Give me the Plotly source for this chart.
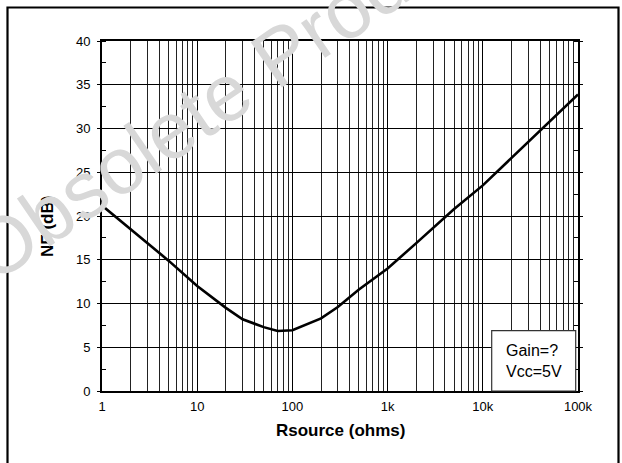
import plotly.graph_objects as go

# ---- data ----
rsource = [1, 2, 5, 10, 20, 30, 50, 70, 100, 200, 300, 500, 1000, 2000, 3000,
           5000, 10000, 20000, 30000, 50000, 100000]
nf_db = [21.2, 18.5, 14.9, 12.0, 9.5, 8.2, 7.3, 6.85, 6.95, 8.3, 9.6, 11.6, 14.0,
         16.9, 18.6, 20.8, 23.5, 26.6, 28.5, 30.8, 33.9]

x_tickvals = [1, 10, 100, 1000, 10000, 100000]
x_ticktext = ["1", "10", "100", "1k", "10k", "100k"]
y_tickvals = [0, 5, 10, 15, 20, 25, 30, 35, 40]

x_title = "Rsource (ohms)"
y_title = "NF (dB)"
box_text = "Gain=?<br>Vcc=5V"
watermark = "Obsolete Product"

FONT = "Liberation Sans, Arial, sans-serif"

# ---- geometry (pixels) ----
W, H = 622, 463
L, R, T, B = 102, 578, 41, 391
pw, ph = R - L, B - T


def px(x):
    return (x - L) / pw


def py(y):
    return (B - y) / ph


fig = go.Figure()
fig.add_trace(go.Scatter(
    x=rsource, y=nf_db, mode="lines",
    line=dict(color="black", width=2.6),
    hoverinfo="skip", showlegend=False,
))

fig.update_layout(
    width=W, height=H,
    margin=dict(l=L, r=W - R, t=T, b=H - B, pad=0),
    paper_bgcolor="white", plot_bgcolor="white",
    font=dict(family=FONT, size=12, color="black"),
    showlegend=False,
    xaxis=dict(
        type="log", range=[0, 5],
        tickvals=x_tickvals, ticktext=x_ticktext,
        showgrid=True, gridcolor="black", gridwidth=1,
        minor=dict(dtick="D1", showgrid=True, gridcolor="#222222", gridwidth=1,
                   ticks=""),
        showline=True, linecolor="black", linewidth=2, mirror=True,
        ticks="", tickfont=dict(size=13, family=FONT),
        ticklabelstandoff=2,
        zeroline=False,
    ),
    yaxis=dict(
        range=[0, 40], tickvals=y_tickvals,
        showgrid=True, gridcolor="black", gridwidth=1,
        minor=dict(dtick=2.5, tick0=0, ticks="inside", ticklen=4,
                   tickcolor="black", showgrid=False),
        showline=True, linecolor="black", linewidth=2, mirror="allticks",
        ticks="outside", ticklen=3, tickcolor="black",
        tickfont=dict(size=13, family=FONT),
        ticklabelstandoff=4,
        zeroline=False,
    ),
)

shapes = [
    # legend-style box
    dict(type="rect", xref="paper", yref="paper",
         x0=px(491.7), x1=px(575.7), y0=py(391), y1=py(330.7),
         fillcolor="white", line=dict(color="#333333", width=1.2),
         layer="above"),
    # outer frame
    dict(type="rect", xref="paper", yref="paper",
         x0=px(7.5), x1=px(618.5), y0=py(490), y1=py(7.5),
         fillcolor="rgba(0,0,0,0)", line=dict(color="black", width=2.2),
         layer="above"),
]
fig.update_layout(shapes=shapes)

annotations = [
    dict(text=box_text, xref="paper", yref="paper",
         x=px(533.5), y=py(361), xanchor="center", yanchor="middle",
         showarrow=False, align="left",
         font=dict(family=FONT, size=16, color="black")),
    dict(text="<b>" + x_title + "</b>", xref="paper", yref="paper",
         x=px(340), y=py(430), xanchor="center", yanchor="middle",
         showarrow=False, font=dict(family=FONT, size=17, color="black")),
    dict(text="<b>" + y_title + "</b>", xref="paper", yref="paper",
         x=px(48), y=py(227), xanchor="center", yanchor="middle",
         textangle=-90, showarrow=False,
         font=dict(family=FONT, size=17, color="black")),
    dict(text=watermark, xref="paper", yref="paper",
         x=px(233), y=py(87), xanchor="center", yanchor="middle",
         textangle=-34.4, showarrow=False,
         font=dict(family=FONT, size=80, color="#d8d8d8")),
]
fig.update_layout(annotations=annotations)

fig.write_html("out.html",
               config={"displayModeBar": False},
               post_script="document.body.style.margin='0';"
                           "document.body.style.overflow='hidden';")
